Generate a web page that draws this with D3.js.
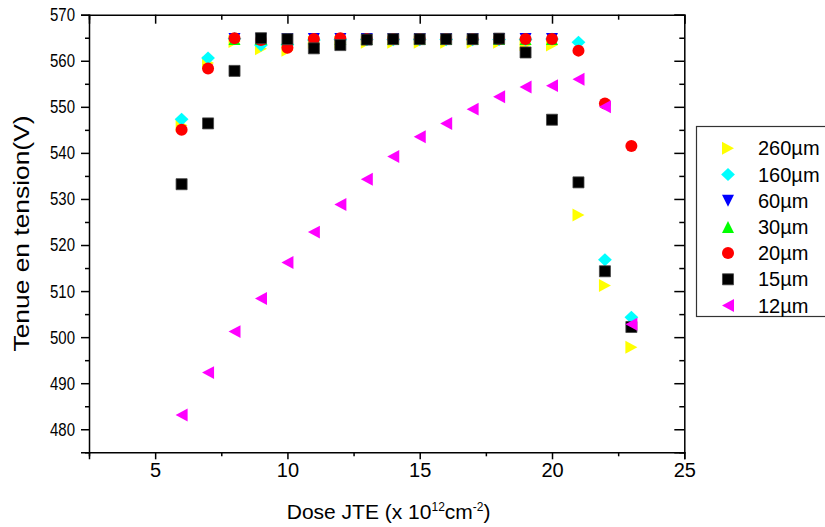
<!DOCTYPE html>
<html lang="fr">
<head>
    <meta charset="UTF-8">
    <title>Tenue en tension vs Dose JTE</title>
    <script src="https://d3js.org/d3.v7.min.js"></script>
    <style>
        body {
            margin: 0;
            background: white;
            font-family: "Liberation Sans", Arial, sans-serif;
        }
        svg {
            display: block;
        }
        .axis path, .axis line {
            stroke: #000;
            stroke-width: 1.5;
        }
        .axis text {
            fill: #000;
            font-family: "Liberation Sans", Arial, sans-serif;
        }
    </style>
</head>
<body>
<svg width="825" height="527"></svg>
<script>
    // data
    const doses = [6, 7, 8, 9, 10, 11, 12, 13, 14, 15, 16, 17, 18, 19, 20, 21, 22, 23];
    const v260 = [546.0, 559.5, 564.2, 562.6, 562.3, 564.0, 564.0, 564.0, 564.0, 564.0, 564.0, 564.0, 564.0, 563.5, 563.4, 526.5, 511.2, 497.8];
    const v160 = [547.3, 560.6, 564.8, 563.4, 563.5, 564.5, 564.6, 564.6, 564.6, 564.6, 564.6, 564.6, 564.6, 564.6, 564.7, 564.0, 516.8, 504.3];
    const v60 = [null, null, 564.7, 564.7, 564.7, 564.7, 564.7, 564.7, 564.7, 564.7, 564.7, 564.7, 564.7, 564.7, 564.7, null, null, null];
    const v30 = [null, null, 564.7, 564.7, 564.7, 564.7, 564.7, 564.7, 564.7, 564.7, 564.7, 564.7, 564.7, 564.7, 564.7, null, null, null];
    const v20 = [545.0, 558.3, 564.9, 564.5, 562.8, 564.7, 564.9, 564.7, 564.7, 564.7, 564.7, 564.7, 564.7, 564.7, 564.7, 562.2, 550.7, 541.5];
    const v15 = [533.2, 546.4, 557.8, 564.9, 564.7, 562.7, 563.4, 564.6, 564.7, 564.7, 564.7, 564.7, 564.8, 561.8, 547.2, 533.6, 514.3, 502.2];
    const v12 = [483.1, 492.3, 501.2, 508.4, 516.2, 522.8, 528.8, 534.3, 539.2, 543.5, 546.4, 549.5, 552.2, 554.3, 554.6, 556.0, 550.0, 502.8];

    const seriesNames = ["260µm", "160µm", "60µm", "30µm", "20µm", "15µm", "12µm"];
    const seriesValues = [v260, v160, v60, v30, v20, v15, v12];
    const seriesColors = ["#ffff00", "#00ffff", "#0000ff", "#00ff00", "#ff0000", "#000000", "#ff00ff"];
    const seriesShapes = ["right", "diamond", "down", "up", "circle", "square", "left"];

    const xMajor = [5, 10, 15, 20, 25];
    const xMinor = [2.5, 7.5, 12.5, 17.5, 22.5];
    const yMajor = [480, 490, 500, 510, 520, 530, 540, 550, 560, 570];
    const yMinor = [475, 485, 495, 505, 515, 525, 535, 545, 555, 565];

    const svg = d3.select("svg");
    const box = { left: 89, right: 684.3, top: 14.7, bottom: 452.3 };

    const x = d3.scaleLinear().domain([2.5, 25]).range([box.left, box.right]);
    const y = d3.scaleLinear().domain([475, 570]).range([box.bottom, box.top]);

    // marker shapes, sized in pixels (size = box width)
    function shape(kind) {
        return {
            draw(ctx, s) {
                const h = s / 2;
                if (kind === "circle") {
                    ctx.moveTo(h, 0);
                    ctx.arc(0, 0, h, 0, 2 * Math.PI);
                } else if (kind === "square") {
                    ctx.rect(-h * 0.92, -h * 0.92, h * 1.84, h * 1.84);
                } else if (kind === "diamond") {
                    ctx.moveTo(0, -h * 1.1); ctx.lineTo(h * 1.15, 0); ctx.lineTo(0, h * 1.1); ctx.lineTo(-h * 1.15, 0);
                    ctx.closePath();
                } else if (kind === "up") {
                    ctx.moveTo(0, -h); ctx.lineTo(h, h); ctx.lineTo(-h, h); ctx.closePath();
                } else if (kind === "down") {
                    ctx.moveTo(0, h); ctx.lineTo(h, -h); ctx.lineTo(-h, -h); ctx.closePath();
                } else if (kind === "left") {
                    ctx.moveTo(-h, 0); ctx.lineTo(h, -h * 1.08); ctx.lineTo(h, h * 1.08); ctx.closePath();
                } else if (kind === "right") {
                    ctx.moveTo(h, 0); ctx.lineTo(-h, -h * 1.08); ctx.lineTo(-h, h * 1.08); ctx.closePath();
                }
            }
        };
    }
    const symbolPath = kind => d3.symbol().type(shape(kind)).size(12)();

    // axes
    svg.append("g").attr("class", "axis")
        .attr("transform", `translate(0,${box.bottom})`)
        .call(d3.axisBottom(x).tickValues(xMajor).tickSize(7).tickPadding(4).tickFormat(d3.format("d")))
        .call(g => g.selectAll("text").style("font-size", "20px"));
    svg.append("g").attr("class", "axis")
        .attr("transform", `translate(0,${box.bottom})`)
        .call(d3.axisBottom(x).tickValues(xMinor).tickSize(4).tickFormat(""))
        .call(g => g.select(".domain").remove());

    svg.append("g").attr("class", "axis")
        .attr("transform", `translate(0,${box.top})`)
        .call(d3.axisTop(x).tickValues(xMajor).tickSize(-9).tickFormat(""));
    svg.append("g").attr("class", "axis")
        .attr("transform", `translate(0,${box.top})`)
        .call(d3.axisTop(x).tickValues(xMinor).tickSize(-5).tickFormat(""))
        .call(g => g.select(".domain").remove());

    svg.append("g").attr("class", "axis")
        .attr("transform", `translate(${box.left},0)`)
        .call(d3.axisLeft(y).tickValues(yMajor).tickSize(8).tickPadding(6).tickFormat(d3.format("d")))
        .call(g => g.selectAll("text")
            .style("font-size", "18.5px")
            .attr("textLength", 25)
            .attr("lengthAdjust", "spacingAndGlyphs"));
    svg.append("g").attr("class", "axis")
        .attr("transform", `translate(${box.left},0)`)
        .call(d3.axisLeft(y).tickValues(yMinor).tickSize(4).tickFormat(""))
        .call(g => g.select(".domain").remove());

    svg.append("g").attr("class", "axis")
        .attr("transform", `translate(${box.right},0)`)
        .call(d3.axisRight(y).tickValues(yMajor).tickSize(-10).tickFormat(""));
    svg.append("g").attr("class", "axis")
        .attr("transform", `translate(${box.right},0)`)
        .call(d3.axisRight(y).tickValues(yMinor).tickSize(-5).tickFormat(""))
        .call(g => g.select(".domain").remove());

    // axis titles
    svg.append("text")
        .attr("transform", `translate(29,${(box.top + box.bottom) / 2}) rotate(-90)`)
        .attr("text-anchor", "middle")
        .style("font-size", "22px")
        .attr("textLength", 236)
        .attr("lengthAdjust", "spacingAndGlyphs")
        .text("Tenue en tension(V)");

    const xt = svg.append("text")
        .attr("x", (box.left + box.right) / 2 + 2)
        .attr("y", 519)
        .attr("text-anchor", "middle")
        .style("font-size", "21px");
    xt.append("tspan").text("Dose JTE (x 10");
    xt.append("tspan").attr("dy", -8).style("font-size", "12px").text("12");
    xt.append("tspan").attr("dy", 8).text("cm");
    xt.append("tspan").attr("dy", -8).style("font-size", "12px").text("-2");
    xt.append("tspan").attr("dy", 8).text(")");

    // points, drawn in legend order
    seriesNames.forEach((name, i) => {
        const pts = doses.map((d, j) => ({ dose: d, v: seriesValues[i][j] })).filter(p => p.v != null);
        svg.append("g")
            .selectAll("path")
            .data(pts)
            .enter().append("path")
            .attr("d", symbolPath(seriesShapes[i]))
            .attr("transform", p => `translate(${x(p.dose)},${y(p.v)})`)
            .attr("fill", seriesColors[i])
            .attr("stroke", seriesShapes[i] === "square" ? "#444" : "none")
            .attr("stroke-width", 0.8);
    });

    // legend
    const legend = svg.append("g");
    legend.append("rect")
        .attr("x", 696.5).attr("y", 126.5)
        .attr("width", 140).attr("height", 190)
        .attr("fill", "white")
        .attr("stroke", "#333")
        .attr("stroke-width", 1.2);
    seriesNames.forEach((name, i) => {
        const cy = 148.3 + i * 26.2;
        legend.append("path")
            .attr("d", symbolPath(seriesShapes[i]))
            .attr("transform", `translate(728,${cy})`)
            .attr("fill", seriesColors[i])
            .attr("stroke", seriesShapes[i] === "square" ? "#444" : "none")
            .attr("stroke-width", 0.8);
        legend.append("text")
            .attr("x", 758)
            .attr("y", cy + 7)
            .style("font-size", "20px")
            .text(name);
    });
</script>
</body>
</html>
